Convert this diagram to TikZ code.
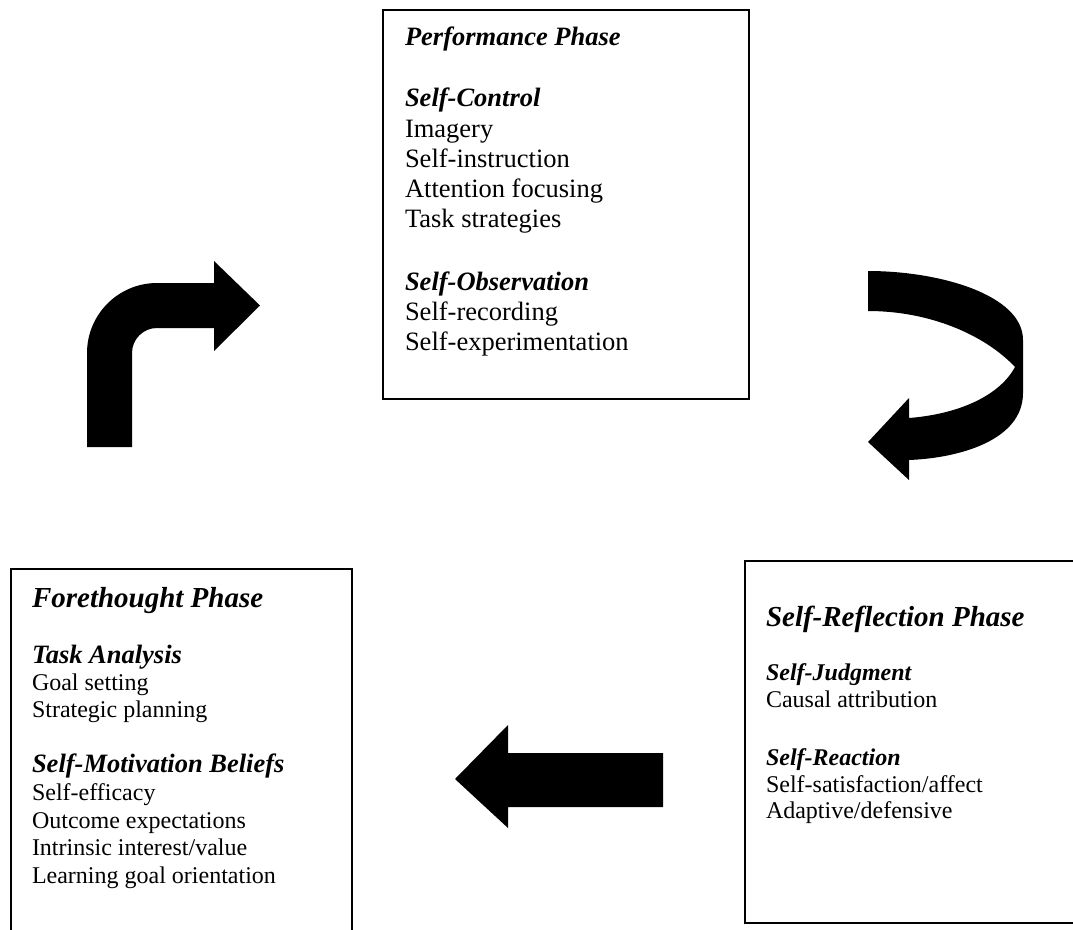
\documentclass[tikz,border=0pt]{standalone}
\usepackage{fontspec}
\setmainfont{Liberation Serif}
\tikzset{
  boxline/.style={line width=2pt, draw=black},
  shapearrow/.style={fill=black, draw=none},
  txt/.style={anchor=base west, inner sep=0pt, outer sep=0pt},
  topbody/.style={txt, font=\fontsize{26.5}{30}\selectfont},
  tophead/.style={txt, font=\fontsize{26.5}{30}\selectfont\bfseries\itshape},
  bighead/.style={txt, font=\fontsize{29}{33}\selectfont\bfseries\itshape},
  midhead/.style={txt, font=\fontsize{26.5}{30}\selectfont\bfseries\itshape},
  smallhead/.style={txt, font=\fontsize{24}{27}\selectfont\bfseries\itshape},
  body/.style={txt, font=\fontsize{24}{27}\selectfont}
}
\begin{document}
\begin{tikzpicture}[x=1pt, y=-1pt]
\useasboundingbox (0,0) rectangle (1073,929);

% ---------- boxes ----------
\draw[boxline] (383,10) rectangle (749,399);
\draw[boxline] (11,935) -- (11,569) -- (352,569) -- (352,935);
\draw[boxline] (1080,561) -- (745,561) -- (745,923) -- (1080,923);

% ---------- Performance Phase ----------
\node[tophead] (perf)  at (405,45)  {Performance Phase};
\node[tophead] (sctrl) at (405,106) {Self-Control};
\node[topbody] (img)   at (405,137) {Imagery};
\node[topbody] (sins)  at (405,167) {Self-instruction};
\node[topbody] (att)   at (405,197) {Attention focusing};
\node[topbody] (tstr)  at (405,227) {Task strategies};
\node[tophead] (sobs)  at (405,290) {Self-Observation};
\node[topbody] (srec)  at (405,320) {Self-recording};
\node[topbody] (sexp)  at (405,350) {Self-experimentation};

% ---------- Forethought Phase ----------
\node[bighead] (fore)  at (32,607) {Forethought Phase};
\node[midhead] (task)  at (32,663) {Task Analysis};
\node[body]    (goal)  at (32,690) {Goal setting};
\node[body]    (strat) at (32,717) {Strategic planning};
\node[midhead] (smot)  at (32,772) {Self-Motivation Beliefs};
\node[body]    (seff)  at (32,800) {Self-efficacy};
\node[body]    (outc)  at (32,828) {Outcome expectations};
\node[body]    (intr)  at (32,855) {Intrinsic interest/value};
\node[body]    (lgo)   at (32,883) {Learning goal orientation};

% ---------- Self-Reflection Phase ----------
\node[bighead]   (refl)  at (766,626) {Self-Reflection Phase};
\node[smallhead] (sjudg) at (766,680) {Self-Judgment};
\node[body]      (caus)  at (766,707) {Causal attribution};
\node[smallhead] (sreac) at (766,765) {Self-Reaction};
\node[body]      (ssat)  at (766,792) {Self-satisfaction/affect};
\node[body]      (adap)  at (766,818) {Adaptive/defensive};

% ---------- bent arrow (left) ----------
\fill[shapearrow] (87,447) -- (87,353)
  .. controls (87,314.4) and (118.4,283) .. (157,283)
  -- (214,283) -- (214,261) -- (260,305.5) -- (214,351) -- (214,328)
  -- (157,328)
  .. controls (143.2,328) and (132,339.2) .. (132,353)
  -- (132,447) -- cycle;

% ---------- curved arrow (right) ----------
\fill[shapearrow] (868,271)
  .. controls (940,271) and (1023,295) .. (1023,340)
  -- (1023,393)
  .. controls (1023,440) and (960,458) .. (909,460)
  -- (909,480) -- (868,442) -- (909,398) -- (909,418)
  .. controls (960,414) and (1000,395) .. (1015,367)
  .. controls (985,335) and (930,311) .. (868,311)
  -- cycle;

% ---------- straight arrow (bottom) ----------
\fill[shapearrow] (663,753) -- (508,753) -- (508,725) -- (455,779)
  -- (508,828) -- (508,807) -- (663,807) -- cycle;
\end{tikzpicture}
\end{document}
